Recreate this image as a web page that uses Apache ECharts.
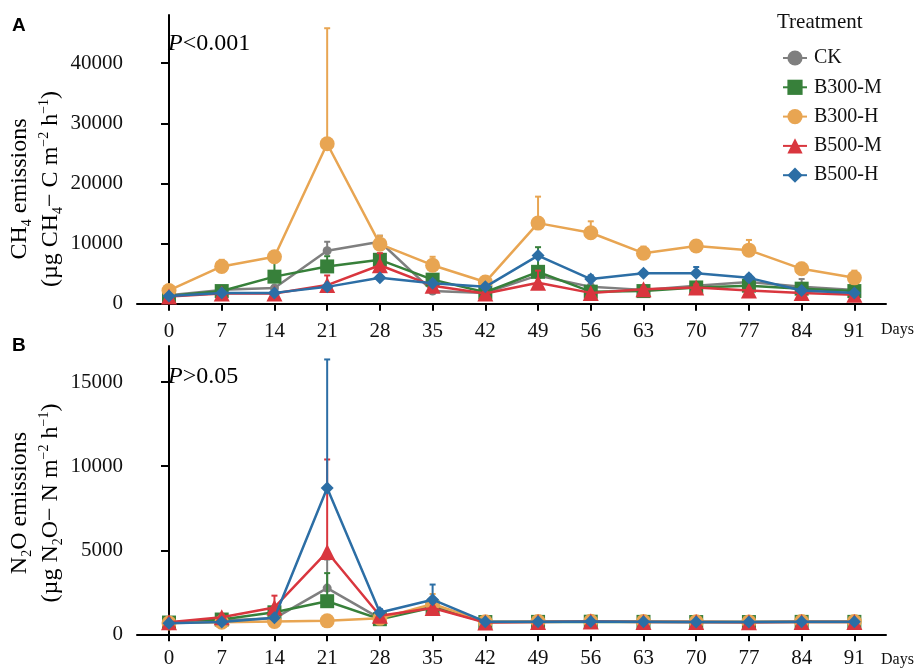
<!DOCTYPE html>
<html>
<head>
<meta charset="utf-8">
<title>CH4 and N2O emissions</title>
<script src="https://cdn.jsdelivr.net/npm/echarts@6/dist/echarts.min.js"></script>
<style>
  html, body { margin: 0; padding: 0; background: #fff; }
  #chart { width: 919px; height: 669px; }
</style>
</head>
<body>
<div id="chart"></div>
<script>
// sampling days
var days = [0, 7, 14, 21, 28, 35, 42, 49, 56, 63, 70, 77, 84, 91];
var treatments = ['CK', 'B300-M', 'B300-H', 'B500-M', 'B500-H'];

// CH4 means and upper error (SE), ug CH4-C m-2 h-1
var ch4CK    = [1400, 2300, 2600, 8800, 10300, 2100, 1800, 4700, 2800, 2300, 3000, 3600, 2800, 2300];
var ch4B300M = [1300, 2100, 4500, 6200, 7300, 4000, 1900, 5300, 2000, 2100, 2700, 3000, 2500, 2100];
var ch4B300H = [2200, 6200, 7800, 26600, 9900, 6400, 3600, 13400, 11800, 8400, 9600, 8900, 5800, 4300];
var ch4B500M = [1200, 1700, 1700, 3100, 6400, 3000, 1700, 3500, 1800, 2400, 2700, 2200, 1800, 1500];
var ch4B500H = [1300, 1800, 1800, 2800, 4300, 3400, 2800, 8000, 4100, 5050, 5050, 4300, 2200, 1800];

var ch4CKErr    = [200, 300, 200, 1500, 1000, 300, 200, 600, 400, 300, 400, 1000, 1300, 400];
var ch4B300MErr = [200, 200, 3300, 1700, 1000, 500, 200, 4100, 300, 200, 300, 400, 400, 300];
var ch4B300HErr = [200, 1100, 600, 19200, 1400, 1400, 300, 4400, 1900, 1100, 500, 1700, 1000, 1200];
var ch4B500MErr = [200, 200, 200, 1600, 2000, 400, 200, 2000, 200, 300, 500, 300, 200, 200];
var ch4B500HErr = [100, 200, 200, 300, 400, 500, 300, 400, 600, 400, 1050, 500, 300, 300];

// N2O means and upper error (SE), ug N2O-N m-2 h-1
var n2oCK    = [690, 820, 950, 2750, 950, 1700, 740, 750, 760, 750, 740, 740, 750, 750];
var n2oB300M = [700, 880, 1310, 1970, 900, 1600, 730, 740, 750, 740, 730, 730, 740, 740];
var n2oB300H = [670, 720, 765, 800, 950, 1800, 750, 760, 770, 760, 750, 740, 760, 760];
var n2oB500M = [720, 1020, 1600, 4900, 1100, 1570, 700, 740, 760, 740, 730, 720, 740, 740];
var n2oB500H = [660, 730, 980, 8700, 1300, 2060, 750, 750, 760, 750, 740, 730, 750, 750];

var n2oCKErr    = [50, 100, 100, 1700, 100, 300, 50, 50, 50, 50, 50, 50, 50, 50];
var n2oB300MErr = [50, 100, 150, 1670, 100, 200, 50, 50, 50, 50, 50, 50, 50, 50];
var n2oB300HErr = [50, 50, 50, 50, 100, 600, 50, 50, 50, 50, 50, 50, 50, 50];
var n2oB500MErr = [100, 150, 700, 5500, 200, 300, 50, 50, 50, 50, 50, 50, 50, 50];
var n2oB500HErr = [50, 50, 100, 7650, 200, 900, 50, 50, 50, 50, 50, 50, 50, 50];

var ch4Ticks = [0, 10000, 20000, 30000, 40000];
var n2oTicks = [0, 5000, 10000, 15000];

var colors  = ['#7f7f7f', '#37803a', '#e8a552', '#d9363e', '#2c6ea5'];
var symbols = ['circle', 'rect', 'circle', 'triangle', 'diamond'];
var sizes   = [9, 14, 15, 16, 13];

var ch4Means = [ch4CK, ch4B300M, ch4B300H, ch4B500M, ch4B500H];
var ch4Errs  = [ch4CKErr, ch4B300MErr, ch4B300HErr, ch4B500MErr, ch4B500HErr];
var n2oMeans = [n2oCK, n2oB300M, n2oB300H, n2oB500M, n2oB500H];
var n2oErrs  = [n2oCKErr, n2oB300MErr, n2oB300HErr, n2oB500MErr, n2oB500HErr];

var serif = 'Liberation Serif';

function pairs(vals) {
  return days.map(function (d, i) { return [d, vals[i]]; });
}
function triples(vals, errs) {
  return days.map(function (d, i) { return [d, vals[i], errs[i]]; });
}

function errorBar(color) {
  return function (params, api) {
    var x = api.value(0), y = api.value(1), e = api.value(2);
    var p0 = api.coord([x, y]);
    var p1 = api.coord([x, y + e]);
    var style = { stroke: color, lineWidth: 2 };
    return {
      type: 'group',
      children: [
        { type: 'line', shape: { x1: p0[0], y1: p0[1], x2: p1[0], y2: p1[1] }, style: style },
        { type: 'line', shape: { x1: p1[0] - 3, y1: p1[1], x2: p1[0] + 3, y2: p1[1] }, style: style }
      ]
    };
  };
}

var series = [];
[[ch4Means, ch4Errs, 0], [n2oMeans, n2oErrs, 1]].forEach(function (set) {
  var means = set[0], errs = set[1], idx = set[2];
  treatments.forEach(function (name, k) {
    series.push({
      type: 'custom',
      name: name + ' SE',
      xAxisIndex: idx,
      yAxisIndex: idx,
      renderItem: errorBar(colors[k]),
      encode: { x: 0, y: 1 },
      data: triples(means[k], errs[k]),
      z: 2 + k * 2,
      silent: true
    });
    series.push({
      type: 'line',
      name: name,
      xAxisIndex: idx,
      yAxisIndex: idx,
      data: pairs(means[k]),
      symbol: symbols[k],
      symbolSize: sizes[k],
      lineStyle: { color: colors[k], width: 2.5 },
      itemStyle: { color: colors[k] },
      z: 3 + k * 2
    });
  });
});

function plain(v) { return String(v); }

function xAxis(gridIndex) {
  return {
    type: 'value', gridIndex: gridIndex, min: -4.25, max: 95.2,
    axisLine: { lineStyle: { color: '#000', width: 2 } },
    axisTick: { length: 7, lineStyle: { color: '#000', width: 2 }, customValues: days },
    axisLabel: { color: '#111', fontFamily: serif, fontSize: 21, margin: 12, customValues: days, formatter: plain },
    splitLine: { show: false }
  };
}
function yAxis(gridIndex, min, max, ticks) {
  return {
    type: 'value', gridIndex: gridIndex, min: min, max: max,
    axisLine: { show: true, lineStyle: { color: '#000', width: 2 } },
    axisTick: { show: true, length: 8, lineStyle: { color: '#000', width: 2 }, customValues: ticks },
    axisLabel: { color: '#111', fontFamily: serif, fontSize: 21, margin: 14, customValues: ticks, formatter: plain },
    splitLine: { show: false }
  };
}

var rich = {
  n: { fontFamily: serif, fontSize: 24, color: '#111', lineHeight: 28 },
  sub: { fontFamily: serif, fontSize: 14, color: '#111', verticalAlign: 'bottom', lineHeight: 14 },
  sup: { fontFamily: serif, fontSize: 14, color: '#111', verticalAlign: 'top', lineHeight: 14 }
};

function vtext(x, y, str) {
  return {
    type: 'text', x: x, y: y, rotation: Math.PI / 2,
    style: { text: str, rich: rich, align: 'center', verticalAlign: 'middle' }
  };
}

var pRich = {
  i: { fontFamily: serif, fontStyle: 'italic', fontSize: 24, color: '#111' },
  n: { fontFamily: serif, fontSize: 24, color: '#111' }
};

var chart = echarts.init(document.getElementById('chart'), null, { renderer: 'canvas' });
chart.setOption({
  animation: false,
  backgroundColor: '#fff',
  grid: [
    { left: 137, top: 15, width: 749, height: 294 },
    { left: 137, top: 346, width: 749, height: 293 }
  ],
  xAxis: [xAxis(0), xAxis(1)],
  yAxis: [yAxis(0, -880, 48000, ch4Ticks), yAxis(1, -100, 17150, n2oTicks)],
  legend: {
    data: treatments,
    orient: 'vertical',
    left: 777, top: 43,
    itemWidth: 24, itemHeight: 19, itemGap: 9.3,
    textStyle: { fontFamily: serif, fontSize: 20, color: '#111', padding: [0, 0, 0, 2] }
  },
  graphic: [
    { type: 'text', left: 12, top: 16, style: { text: 'A', fontFamily: 'Liberation Sans', fontWeight: 'bold', fontSize: 19, fill: '#000' } },
    { type: 'text', left: 12, top: 336, style: { text: 'B', fontFamily: 'Liberation Sans', fontWeight: 'bold', fontSize: 19, fill: '#000' } },
    { type: 'text', left: 168, top: 32, style: { text: '{i|P}{n|<0.001}', rich: pRich } },
    { type: 'text', left: 168, top: 365, style: { text: '{i|P}{n|>0.05}', rich: pRich } },
    { type: 'text', left: 777, top: 12, style: { text: 'Treatment', fontFamily: serif, fontSize: 21, fill: '#111' } },
    { type: 'text', left: 881, top: 322, style: { text: 'Days', fontFamily: serif, fontSize: 16, fill: '#111' } },
    { type: 'text', left: 881, top: 652, style: { text: 'Days', fontFamily: serif, fontSize: 16, fill: '#111' } },
    vtext(20, 189, '{n|CH}{sub|4}{n| emissions}'),
    vtext(51, 189, '{n|(µg CH}{sub|4}{n|− C m}{sup|−2}{n| h}{sup|−1}{n|)}'),
    vtext(20, 503, '{n|N}{sub|2}{n|O emissions}'),
    vtext(51, 503, '{n|(µg N}{sub|2}{n|O− N m}{sup|−2}{n| h}{sup|−1}{n|)}')
  ],
  series: series
});
</script>
</body>
</html>
